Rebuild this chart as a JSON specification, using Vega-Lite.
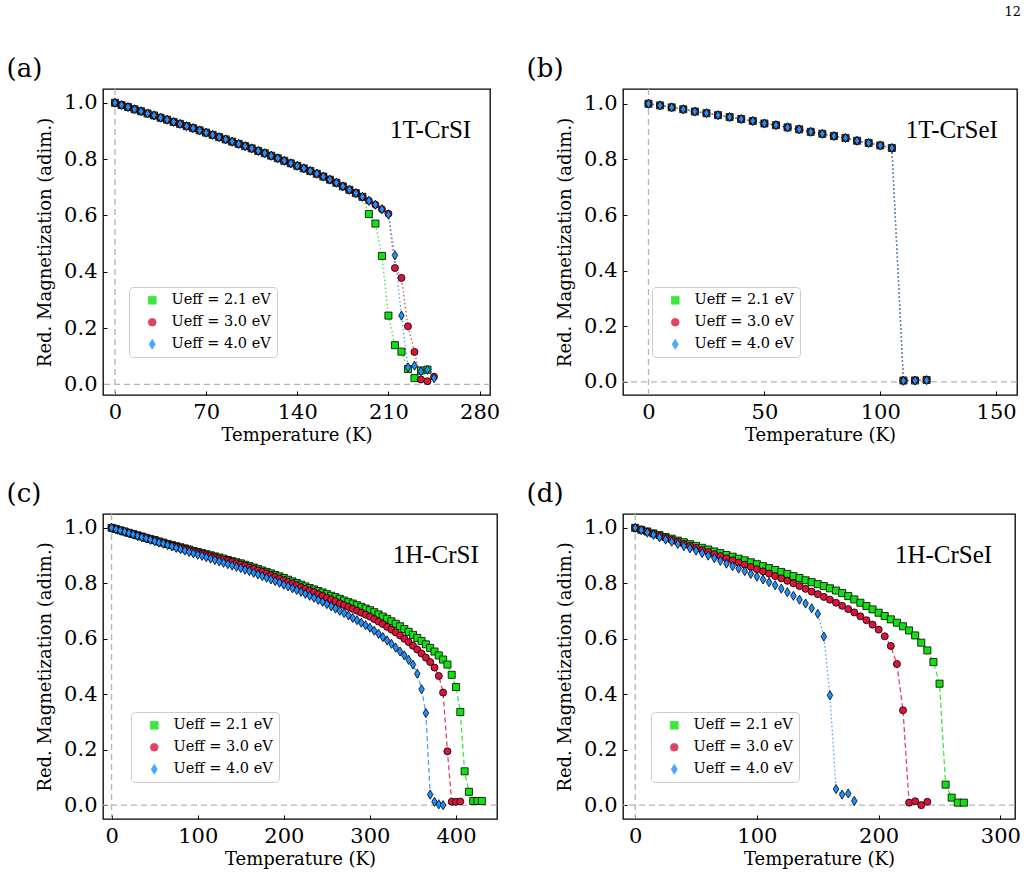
{
"$schema": "https://vega.github.io/schema/vega-lite/v6.json",
"background": "white",
"padding": 5,
"title": {"text": "12", "anchor": "end", "frame": "bounds", "fontSize": 13, "font": "DejaVu Serif", "fontWeight": "normal", "dx": 0, "offset": 37},
"datasets": {
"a": [
{"T":0,"M":1.000,"U":"2.1"},{"T":5,"M":0.992,"U":"2.1"},{"T":10,"M":0.985,"U":"2.1"},{"T":15,"M":0.977,"U":"2.1"},{"T":20,"M":0.970,"U":"2.1"},{"T":25,"M":0.962,"U":"2.1"},{"T":30,"M":0.955,"U":"2.1"},{"T":35,"M":0.947,"U":"2.1"},{"T":40,"M":0.940,"U":"2.1"},{"T":45,"M":0.932,"U":"2.1"},{"T":50,"M":0.925,"U":"2.1"},{"T":55,"M":0.917,"U":"2.1"},{"T":60,"M":0.910,"U":"2.1"},{"T":65,"M":0.902,"U":"2.1"},{"T":70,"M":0.894,"U":"2.1"},{"T":75,"M":0.886,"U":"2.1"},{"T":80,"M":0.878,"U":"2.1"},{"T":85,"M":0.870,"U":"2.1"},{"T":90,"M":0.862,"U":"2.1"},{"T":95,"M":0.854,"U":"2.1"},{"T":100,"M":0.846,"U":"2.1"},{"T":105,"M":0.838,"U":"2.1"},{"T":110,"M":0.829,"U":"2.1"},{"T":115,"M":0.821,"U":"2.1"},{"T":120,"M":0.812,"U":"2.1"},{"T":125,"M":0.803,"U":"2.1"},{"T":130,"M":0.794,"U":"2.1"},{"T":135,"M":0.785,"U":"2.1"},{"T":140,"M":0.776,"U":"2.1"},{"T":145,"M":0.767,"U":"2.1"},{"T":150,"M":0.758,"U":"2.1"},{"T":155,"M":0.748,"U":"2.1"},{"T":160,"M":0.738,"U":"2.1"},{"T":165,"M":0.727,"U":"2.1"},{"T":170,"M":0.716,"U":"2.1"},{"T":175,"M":0.703,"U":"2.1"},{"T":180,"M":0.691,"U":"2.1"},{"T":185,"M":0.679,"U":"2.1"},{"T":190,"M":0.666,"U":"2.1"},{"T":195,"M":0.605,"U":"2.1"},{"T":200,"M":0.571,"U":"2.1"},{"T":205,"M":0.456,"U":"2.1"},{"T":210,"M":0.244,"U":"2.1"},{"T":215,"M":0.139,"U":"2.1"},{"T":220,"M":0.116,"U":"2.1"},{"T":225,"M":0.054,"U":"2.1"},{"T":230,"M":0.022,"U":"2.1"},{"T":235,"M":0.049,"U":"2.1"},{"T":240,"M":0.052,"U":"2.1"},
{"T":0,"M":1.000,"U":"3.0"},{"T":5,"M":0.992,"U":"3.0"},{"T":10,"M":0.985,"U":"3.0"},{"T":15,"M":0.977,"U":"3.0"},{"T":20,"M":0.970,"U":"3.0"},{"T":25,"M":0.962,"U":"3.0"},{"T":30,"M":0.955,"U":"3.0"},{"T":35,"M":0.947,"U":"3.0"},{"T":40,"M":0.940,"U":"3.0"},{"T":45,"M":0.932,"U":"3.0"},{"T":50,"M":0.925,"U":"3.0"},{"T":55,"M":0.917,"U":"3.0"},{"T":60,"M":0.910,"U":"3.0"},{"T":65,"M":0.902,"U":"3.0"},{"T":70,"M":0.894,"U":"3.0"},{"T":75,"M":0.886,"U":"3.0"},{"T":80,"M":0.878,"U":"3.0"},{"T":85,"M":0.870,"U":"3.0"},{"T":90,"M":0.862,"U":"3.0"},{"T":95,"M":0.854,"U":"3.0"},{"T":100,"M":0.846,"U":"3.0"},{"T":105,"M":0.838,"U":"3.0"},{"T":110,"M":0.829,"U":"3.0"},{"T":115,"M":0.821,"U":"3.0"},{"T":120,"M":0.812,"U":"3.0"},{"T":125,"M":0.803,"U":"3.0"},{"T":130,"M":0.794,"U":"3.0"},{"T":135,"M":0.785,"U":"3.0"},{"T":140,"M":0.776,"U":"3.0"},{"T":145,"M":0.767,"U":"3.0"},{"T":150,"M":0.758,"U":"3.0"},{"T":155,"M":0.748,"U":"3.0"},{"T":160,"M":0.738,"U":"3.0"},{"T":165,"M":0.727,"U":"3.0"},{"T":170,"M":0.716,"U":"3.0"},{"T":175,"M":0.703,"U":"3.0"},{"T":180,"M":0.691,"U":"3.0"},{"T":185,"M":0.679,"U":"3.0"},{"T":190,"M":0.666,"U":"3.0"},{"T":195,"M":0.652,"U":"3.0"},{"T":200,"M":0.638,"U":"3.0"},{"T":205,"M":0.622,"U":"3.0"},{"T":210,"M":0.606,"U":"3.0"},{"T":215,"M":0.413,"U":"3.0"},{"T":220,"M":0.378,"U":"3.0"},{"T":225,"M":0.206,"U":"3.0"},{"T":230,"M":0.115,"U":"3.0"},{"T":235,"M":0.017,"U":"3.0"},{"T":240,"M":0.011,"U":"3.0"},{"T":245,"M":0.027,"U":"3.0"},
{"T":0,"M":1.000,"U":"4.0"},{"T":5,"M":0.992,"U":"4.0"},{"T":10,"M":0.985,"U":"4.0"},{"T":15,"M":0.977,"U":"4.0"},{"T":20,"M":0.970,"U":"4.0"},{"T":25,"M":0.962,"U":"4.0"},{"T":30,"M":0.955,"U":"4.0"},{"T":35,"M":0.947,"U":"4.0"},{"T":40,"M":0.940,"U":"4.0"},{"T":45,"M":0.932,"U":"4.0"},{"T":50,"M":0.925,"U":"4.0"},{"T":55,"M":0.917,"U":"4.0"},{"T":60,"M":0.910,"U":"4.0"},{"T":65,"M":0.902,"U":"4.0"},{"T":70,"M":0.894,"U":"4.0"},{"T":75,"M":0.886,"U":"4.0"},{"T":80,"M":0.878,"U":"4.0"},{"T":85,"M":0.870,"U":"4.0"},{"T":90,"M":0.862,"U":"4.0"},{"T":95,"M":0.854,"U":"4.0"},{"T":100,"M":0.846,"U":"4.0"},{"T":105,"M":0.838,"U":"4.0"},{"T":110,"M":0.829,"U":"4.0"},{"T":115,"M":0.821,"U":"4.0"},{"T":120,"M":0.812,"U":"4.0"},{"T":125,"M":0.803,"U":"4.0"},{"T":130,"M":0.794,"U":"4.0"},{"T":135,"M":0.785,"U":"4.0"},{"T":140,"M":0.776,"U":"4.0"},{"T":145,"M":0.767,"U":"4.0"},{"T":150,"M":0.758,"U":"4.0"},{"T":155,"M":0.748,"U":"4.0"},{"T":160,"M":0.738,"U":"4.0"},{"T":165,"M":0.727,"U":"4.0"},{"T":170,"M":0.716,"U":"4.0"},{"T":175,"M":0.703,"U":"4.0"},{"T":180,"M":0.691,"U":"4.0"},{"T":185,"M":0.679,"U":"4.0"},{"T":190,"M":0.666,"U":"4.0"},{"T":195,"M":0.652,"U":"4.0"},{"T":200,"M":0.638,"U":"4.0"},{"T":205,"M":0.622,"U":"4.0"},{"T":210,"M":0.603,"U":"4.0"},{"T":215,"M":0.458,"U":"4.0"},{"T":220,"M":0.244,"U":"4.0"},{"T":225,"M":0.060,"U":"4.0"},{"T":230,"M":0.066,"U":"4.0"},{"T":235,"M":0.046,"U":"4.0"},{"T":240,"M":0.052,"U":"4.0"},{"T":245,"M":0.022,"U":"4.0"}
],
"b": [
{"T":0,"M":1.000,"U":"2.1"},{"T":5,"M":0.994,"U":"2.1"},{"T":10,"M":0.987,"U":"2.1"},{"T":15,"M":0.980,"U":"2.1"},{"T":20,"M":0.972,"U":"2.1"},{"T":25,"M":0.966,"U":"2.1"},{"T":30,"M":0.959,"U":"2.1"},{"T":35,"M":0.952,"U":"2.1"},{"T":40,"M":0.945,"U":"2.1"},{"T":45,"M":0.938,"U":"2.1"},{"T":50,"M":0.929,"U":"2.1"},{"T":55,"M":0.923,"U":"2.1"},{"T":60,"M":0.915,"U":"2.1"},{"T":65,"M":0.908,"U":"2.1"},{"T":70,"M":0.899,"U":"2.1"},{"T":75,"M":0.892,"U":"2.1"},{"T":80,"M":0.884,"U":"2.1"},{"T":85,"M":0.877,"U":"2.1"},{"T":90,"M":0.867,"U":"2.1"},{"T":95,"M":0.859,"U":"2.1"},{"T":100,"M":0.850,"U":"2.1"},{"T":105,"M":0.841,"U":"2.1"},{"T":110,"M":0.005,"U":"2.1"},{"T":115,"M":0.005,"U":"2.1"},{"T":120,"M":0.007,"U":"2.1"},
{"T":0,"M":1.000,"U":"3.0"},{"T":5,"M":0.994,"U":"3.0"},{"T":10,"M":0.987,"U":"3.0"},{"T":15,"M":0.980,"U":"3.0"},{"T":20,"M":0.972,"U":"3.0"},{"T":25,"M":0.966,"U":"3.0"},{"T":30,"M":0.959,"U":"3.0"},{"T":35,"M":0.952,"U":"3.0"},{"T":40,"M":0.945,"U":"3.0"},{"T":45,"M":0.938,"U":"3.0"},{"T":50,"M":0.929,"U":"3.0"},{"T":55,"M":0.923,"U":"3.0"},{"T":60,"M":0.915,"U":"3.0"},{"T":65,"M":0.908,"U":"3.0"},{"T":70,"M":0.899,"U":"3.0"},{"T":75,"M":0.892,"U":"3.0"},{"T":80,"M":0.884,"U":"3.0"},{"T":85,"M":0.877,"U":"3.0"},{"T":90,"M":0.867,"U":"3.0"},{"T":95,"M":0.859,"U":"3.0"},{"T":100,"M":0.850,"U":"3.0"},{"T":105,"M":0.841,"U":"3.0"},{"T":110,"M":0.005,"U":"3.0"},{"T":115,"M":0.006,"U":"3.0"},{"T":120,"M":0.008,"U":"3.0"},
{"T":0,"M":1.000,"U":"4.0"},{"T":5,"M":0.994,"U":"4.0"},{"T":10,"M":0.987,"U":"4.0"},{"T":15,"M":0.980,"U":"4.0"},{"T":20,"M":0.972,"U":"4.0"},{"T":25,"M":0.966,"U":"4.0"},{"T":30,"M":0.959,"U":"4.0"},{"T":35,"M":0.952,"U":"4.0"},{"T":40,"M":0.945,"U":"4.0"},{"T":45,"M":0.938,"U":"4.0"},{"T":50,"M":0.929,"U":"4.0"},{"T":55,"M":0.923,"U":"4.0"},{"T":60,"M":0.915,"U":"4.0"},{"T":65,"M":0.908,"U":"4.0"},{"T":70,"M":0.899,"U":"4.0"},{"T":75,"M":0.892,"U":"4.0"},{"T":80,"M":0.884,"U":"4.0"},{"T":85,"M":0.877,"U":"4.0"},{"T":90,"M":0.867,"U":"4.0"},{"T":95,"M":0.859,"U":"4.0"},{"T":100,"M":0.850,"U":"4.0"},{"T":105,"M":0.841,"U":"4.0"},{"T":110,"M":0.004,"U":"4.0"},{"T":115,"M":0.005,"U":"4.0"},{"T":120,"M":0.006,"U":"4.0"}
],
"c": [
{"T":0,"M":1.000,"U":"2.1"},{"T":5,"M":0.996,"U":"2.1"},{"T":10,"M":0.991,"U":"2.1"},{"T":15,"M":0.987,"U":"2.1"},{"T":20,"M":0.982,"U":"2.1"},{"T":25,"M":0.978,"U":"2.1"},{"T":30,"M":0.973,"U":"2.1"},{"T":35,"M":0.969,"U":"2.1"},{"T":40,"M":0.964,"U":"2.1"},{"T":45,"M":0.960,"U":"2.1"},{"T":50,"M":0.956,"U":"2.1"},{"T":55,"M":0.951,"U":"2.1"},{"T":60,"M":0.947,"U":"2.1"},{"T":65,"M":0.942,"U":"2.1"},{"T":70,"M":0.938,"U":"2.1"},{"T":75,"M":0.934,"U":"2.1"},{"T":80,"M":0.930,"U":"2.1"},{"T":85,"M":0.926,"U":"2.1"},{"T":90,"M":0.922,"U":"2.1"},{"T":95,"M":0.917,"U":"2.1"},{"T":100,"M":0.913,"U":"2.1"},{"T":105,"M":0.909,"U":"2.1"},{"T":110,"M":0.905,"U":"2.1"},{"T":115,"M":0.901,"U":"2.1"},{"T":120,"M":0.897,"U":"2.1"},{"T":125,"M":0.893,"U":"2.1"},{"T":130,"M":0.889,"U":"2.1"},{"T":135,"M":0.884,"U":"2.1"},{"T":140,"M":0.880,"U":"2.1"},{"T":145,"M":0.876,"U":"2.1"},{"T":150,"M":0.872,"U":"2.1"},{"T":155,"M":0.867,"U":"2.1"},{"T":160,"M":0.862,"U":"2.1"},{"T":165,"M":0.857,"U":"2.1"},{"T":170,"M":0.852,"U":"2.1"},{"T":175,"M":0.846,"U":"2.1"},{"T":180,"M":0.841,"U":"2.1"},{"T":185,"M":0.836,"U":"2.1"},{"T":190,"M":0.830,"U":"2.1"},{"T":195,"M":0.825,"U":"2.1"},{"T":200,"M":0.819,"U":"2.1"},{"T":205,"M":0.813,"U":"2.1"},{"T":210,"M":0.807,"U":"2.1"},{"T":215,"M":0.801,"U":"2.1"},{"T":220,"M":0.795,"U":"2.1"},{"T":225,"M":0.789,"U":"2.1"},{"T":230,"M":0.783,"U":"2.1"},{"T":235,"M":0.778,"U":"2.1"},{"T":240,"M":0.772,"U":"2.1"},{"T":245,"M":0.767,"U":"2.1"},{"T":250,"M":0.761,"U":"2.1"},{"T":255,"M":0.755,"U":"2.1"},{"T":260,"M":0.750,"U":"2.1"},{"T":265,"M":0.744,"U":"2.1"},{"T":270,"M":0.738,"U":"2.1"},{"T":275,"M":0.732,"U":"2.1"},{"T":280,"M":0.727,"U":"2.1"},{"T":285,"M":0.721,"U":"2.1"},{"T":290,"M":0.715,"U":"2.1"},{"T":295,"M":0.709,"U":"2.1"},{"T":300,"M":0.703,"U":"2.1"},{"T":305,"M":0.696,"U":"2.1"},{"T":310,"M":0.688,"U":"2.1"},{"T":315,"M":0.680,"U":"2.1"},{"T":320,"M":0.672,"U":"2.1"},{"T":325,"M":0.663,"U":"2.1"},{"T":330,"M":0.654,"U":"2.1"},{"T":335,"M":0.645,"U":"2.1"},{"T":340,"M":0.635,"U":"2.1"},{"T":345,"M":0.625,"U":"2.1"},{"T":350,"M":0.614,"U":"2.1"},{"T":355,"M":0.603,"U":"2.1"},{"T":360,"M":0.592,"U":"2.1"},{"T":365,"M":0.580,"U":"2.1"},{"T":370,"M":0.567,"U":"2.1"},{"T":375,"M":0.554,"U":"2.1"},{"T":380,"M":0.540,"U":"2.1"},{"T":385,"M":0.525,"U":"2.1"},{"T":390,"M":0.507,"U":"2.1"},{"T":395,"M":0.470,"U":"2.1"},{"T":400,"M":0.426,"U":"2.1"},{"T":405,"M":0.336,"U":"2.1"},{"T":410,"M":0.122,"U":"2.1"},{"T":415,"M":0.048,"U":"2.1"},{"T":420,"M":0.015,"U":"2.1"},{"T":425,"M":0.015,"U":"2.1"},{"T":430,"M":0.015,"U":"2.1"},
{"T":0,"M":1.000,"U":"3.0"},{"T":5,"M":0.995,"U":"3.0"},{"T":10,"M":0.991,"U":"3.0"},{"T":15,"M":0.986,"U":"3.0"},{"T":20,"M":0.982,"U":"3.0"},{"T":25,"M":0.977,"U":"3.0"},{"T":30,"M":0.973,"U":"3.0"},{"T":35,"M":0.968,"U":"3.0"},{"T":40,"M":0.964,"U":"3.0"},{"T":45,"M":0.959,"U":"3.0"},{"T":50,"M":0.955,"U":"3.0"},{"T":55,"M":0.950,"U":"3.0"},{"T":60,"M":0.946,"U":"3.0"},{"T":65,"M":0.941,"U":"3.0"},{"T":70,"M":0.937,"U":"3.0"},{"T":75,"M":0.933,"U":"3.0"},{"T":80,"M":0.928,"U":"3.0"},{"T":85,"M":0.924,"U":"3.0"},{"T":90,"M":0.920,"U":"3.0"},{"T":95,"M":0.915,"U":"3.0"},{"T":100,"M":0.911,"U":"3.0"},{"T":105,"M":0.907,"U":"3.0"},{"T":110,"M":0.902,"U":"3.0"},{"T":115,"M":0.898,"U":"3.0"},{"T":120,"M":0.894,"U":"3.0"},{"T":125,"M":0.889,"U":"3.0"},{"T":130,"M":0.885,"U":"3.0"},{"T":135,"M":0.881,"U":"3.0"},{"T":140,"M":0.877,"U":"3.0"},{"T":145,"M":0.872,"U":"3.0"},{"T":150,"M":0.868,"U":"3.0"},{"T":155,"M":0.863,"U":"3.0"},{"T":160,"M":0.857,"U":"3.0"},{"T":165,"M":0.852,"U":"3.0"},{"T":170,"M":0.846,"U":"3.0"},{"T":175,"M":0.841,"U":"3.0"},{"T":180,"M":0.835,"U":"3.0"},{"T":185,"M":0.829,"U":"3.0"},{"T":190,"M":0.823,"U":"3.0"},{"T":195,"M":0.817,"U":"3.0"},{"T":200,"M":0.811,"U":"3.0"},{"T":205,"M":0.805,"U":"3.0"},{"T":210,"M":0.799,"U":"3.0"},{"T":215,"M":0.793,"U":"3.0"},{"T":220,"M":0.786,"U":"3.0"},{"T":225,"M":0.780,"U":"3.0"},{"T":230,"M":0.774,"U":"3.0"},{"T":235,"M":0.768,"U":"3.0"},{"T":240,"M":0.761,"U":"3.0"},{"T":245,"M":0.755,"U":"3.0"},{"T":250,"M":0.748,"U":"3.0"},{"T":255,"M":0.742,"U":"3.0"},{"T":260,"M":0.735,"U":"3.0"},{"T":265,"M":0.728,"U":"3.0"},{"T":270,"M":0.722,"U":"3.0"},{"T":275,"M":0.715,"U":"3.0"},{"T":280,"M":0.708,"U":"3.0"},{"T":285,"M":0.701,"U":"3.0"},{"T":290,"M":0.694,"U":"3.0"},{"T":295,"M":0.687,"U":"3.0"},{"T":300,"M":0.680,"U":"3.0"},{"T":305,"M":0.671,"U":"3.0"},{"T":310,"M":0.662,"U":"3.0"},{"T":315,"M":0.653,"U":"3.0"},{"T":320,"M":0.643,"U":"3.0"},{"T":325,"M":0.633,"U":"3.0"},{"T":330,"M":0.623,"U":"3.0"},{"T":335,"M":0.612,"U":"3.0"},{"T":340,"M":0.600,"U":"3.0"},{"T":345,"M":0.588,"U":"3.0"},{"T":350,"M":0.575,"U":"3.0"},{"T":355,"M":0.561,"U":"3.0"},{"T":360,"M":0.547,"U":"3.0"},{"T":365,"M":0.532,"U":"3.0"},{"T":370,"M":0.516,"U":"3.0"},{"T":375,"M":0.496,"U":"3.0"},{"T":380,"M":0.466,"U":"3.0"},{"T":385,"M":0.406,"U":"3.0"},{"T":390,"M":0.194,"U":"3.0"},{"T":395,"M":0.012,"U":"3.0"},{"T":400,"M":0.012,"U":"3.0"},{"T":405,"M":0.013,"U":"3.0"},
{"T":0,"M":1.000,"U":"4.0"},{"T":5,"M":0.995,"U":"4.0"},{"T":10,"M":0.990,"U":"4.0"},{"T":15,"M":0.986,"U":"4.0"},{"T":20,"M":0.981,"U":"4.0"},{"T":25,"M":0.976,"U":"4.0"},{"T":30,"M":0.971,"U":"4.0"},{"T":35,"M":0.966,"U":"4.0"},{"T":40,"M":0.962,"U":"4.0"},{"T":45,"M":0.957,"U":"4.0"},{"T":50,"M":0.952,"U":"4.0"},{"T":55,"M":0.947,"U":"4.0"},{"T":60,"M":0.943,"U":"4.0"},{"T":65,"M":0.938,"U":"4.0"},{"T":70,"M":0.933,"U":"4.0"},{"T":75,"M":0.928,"U":"4.0"},{"T":80,"M":0.923,"U":"4.0"},{"T":85,"M":0.918,"U":"4.0"},{"T":90,"M":0.913,"U":"4.0"},{"T":95,"M":0.908,"U":"4.0"},{"T":100,"M":0.903,"U":"4.0"},{"T":105,"M":0.899,"U":"4.0"},{"T":110,"M":0.894,"U":"4.0"},{"T":115,"M":0.889,"U":"4.0"},{"T":120,"M":0.884,"U":"4.0"},{"T":125,"M":0.879,"U":"4.0"},{"T":130,"M":0.874,"U":"4.0"},{"T":135,"M":0.869,"U":"4.0"},{"T":140,"M":0.864,"U":"4.0"},{"T":145,"M":0.859,"U":"4.0"},{"T":150,"M":0.855,"U":"4.0"},{"T":155,"M":0.849,"U":"4.0"},{"T":160,"M":0.844,"U":"4.0"},{"T":165,"M":0.838,"U":"4.0"},{"T":170,"M":0.832,"U":"4.0"},{"T":175,"M":0.826,"U":"4.0"},{"T":180,"M":0.820,"U":"4.0"},{"T":185,"M":0.814,"U":"4.0"},{"T":190,"M":0.808,"U":"4.0"},{"T":195,"M":0.802,"U":"4.0"},{"T":200,"M":0.795,"U":"4.0"},{"T":205,"M":0.789,"U":"4.0"},{"T":210,"M":0.782,"U":"4.0"},{"T":215,"M":0.776,"U":"4.0"},{"T":220,"M":0.769,"U":"4.0"},{"T":225,"M":0.762,"U":"4.0"},{"T":230,"M":0.755,"U":"4.0"},{"T":235,"M":0.748,"U":"4.0"},{"T":240,"M":0.740,"U":"4.0"},{"T":245,"M":0.733,"U":"4.0"},{"T":250,"M":0.725,"U":"4.0"},{"T":255,"M":0.717,"U":"4.0"},{"T":260,"M":0.709,"U":"4.0"},{"T":265,"M":0.701,"U":"4.0"},{"T":270,"M":0.693,"U":"4.0"},{"T":275,"M":0.684,"U":"4.0"},{"T":280,"M":0.675,"U":"4.0"},{"T":285,"M":0.667,"U":"4.0"},{"T":290,"M":0.658,"U":"4.0"},{"T":295,"M":0.649,"U":"4.0"},{"T":300,"M":0.640,"U":"4.0"},{"T":305,"M":0.629,"U":"4.0"},{"T":310,"M":0.618,"U":"4.0"},{"T":315,"M":0.606,"U":"4.0"},{"T":320,"M":0.594,"U":"4.0"},{"T":325,"M":0.582,"U":"4.0"},{"T":330,"M":0.568,"U":"4.0"},{"T":335,"M":0.554,"U":"4.0"},{"T":340,"M":0.540,"U":"4.0"},{"T":345,"M":0.524,"U":"4.0"},{"T":350,"M":0.507,"U":"4.0"},{"T":355,"M":0.474,"U":"4.0"},{"T":360,"M":0.418,"U":"4.0"},{"T":365,"M":0.332,"U":"4.0"},{"T":370,"M":0.038,"U":"4.0"},{"T":375,"M":0.012,"U":"4.0"},{"T":380,"M":0.003,"U":"4.0"},{"T":385,"M":0.000,"U":"4.0"}
],
"d": [
{"T":0,"M":1.000,"U":"2.1"},{"T":5,"M":0.993,"U":"2.1"},{"T":10,"M":0.987,"U":"2.1"},{"T":15,"M":0.980,"U":"2.1"},{"T":20,"M":0.974,"U":"2.1"},{"T":25,"M":0.967,"U":"2.1"},{"T":30,"M":0.961,"U":"2.1"},{"T":35,"M":0.954,"U":"2.1"},{"T":40,"M":0.948,"U":"2.1"},{"T":45,"M":0.941,"U":"2.1"},{"T":50,"M":0.935,"U":"2.1"},{"T":55,"M":0.928,"U":"2.1"},{"T":60,"M":0.922,"U":"2.1"},{"T":65,"M":0.915,"U":"2.1"},{"T":70,"M":0.909,"U":"2.1"},{"T":75,"M":0.902,"U":"2.1"},{"T":80,"M":0.896,"U":"2.1"},{"T":85,"M":0.889,"U":"2.1"},{"T":90,"M":0.883,"U":"2.1"},{"T":95,"M":0.876,"U":"2.1"},{"T":100,"M":0.869,"U":"2.1"},{"T":105,"M":0.862,"U":"2.1"},{"T":110,"M":0.855,"U":"2.1"},{"T":115,"M":0.848,"U":"2.1"},{"T":120,"M":0.841,"U":"2.1"},{"T":125,"M":0.834,"U":"2.1"},{"T":130,"M":0.826,"U":"2.1"},{"T":135,"M":0.819,"U":"2.1"},{"T":140,"M":0.811,"U":"2.1"},{"T":145,"M":0.804,"U":"2.1"},{"T":150,"M":0.797,"U":"2.1"},{"T":155,"M":0.790,"U":"2.1"},{"T":160,"M":0.782,"U":"2.1"},{"T":165,"M":0.774,"U":"2.1"},{"T":170,"M":0.765,"U":"2.1"},{"T":175,"M":0.754,"U":"2.1"},{"T":180,"M":0.742,"U":"2.1"},{"T":185,"M":0.730,"U":"2.1"},{"T":190,"M":0.718,"U":"2.1"},{"T":195,"M":0.706,"U":"2.1"},{"T":200,"M":0.694,"U":"2.1"},{"T":205,"M":0.682,"U":"2.1"},{"T":210,"M":0.670,"U":"2.1"},{"T":215,"M":0.658,"U":"2.1"},{"T":220,"M":0.645,"U":"2.1"},{"T":225,"M":0.630,"U":"2.1"},{"T":230,"M":0.612,"U":"2.1"},{"T":235,"M":0.586,"U":"2.1"},{"T":240,"M":0.558,"U":"2.1"},{"T":245,"M":0.516,"U":"2.1"},{"T":250,"M":0.438,"U":"2.1"},{"T":255,"M":0.074,"U":"2.1"},{"T":260,"M":0.027,"U":"2.1"},{"T":265,"M":0.009,"U":"2.1"},{"T":270,"M":0.009,"U":"2.1"},
{"T":0,"M":1.000,"U":"3.0"},{"T":5,"M":0.993,"U":"3.0"},{"T":10,"M":0.986,"U":"3.0"},{"T":15,"M":0.979,"U":"3.0"},{"T":20,"M":0.971,"U":"3.0"},{"T":25,"M":0.964,"U":"3.0"},{"T":30,"M":0.957,"U":"3.0"},{"T":35,"M":0.950,"U":"3.0"},{"T":40,"M":0.942,"U":"3.0"},{"T":45,"M":0.935,"U":"3.0"},{"T":50,"M":0.928,"U":"3.0"},{"T":55,"M":0.920,"U":"3.0"},{"T":60,"M":0.913,"U":"3.0"},{"T":65,"M":0.905,"U":"3.0"},{"T":70,"M":0.898,"U":"3.0"},{"T":75,"M":0.890,"U":"3.0"},{"T":80,"M":0.883,"U":"3.0"},{"T":85,"M":0.875,"U":"3.0"},{"T":90,"M":0.867,"U":"3.0"},{"T":95,"M":0.859,"U":"3.0"},{"T":100,"M":0.851,"U":"3.0"},{"T":105,"M":0.843,"U":"3.0"},{"T":110,"M":0.835,"U":"3.0"},{"T":115,"M":0.826,"U":"3.0"},{"T":120,"M":0.818,"U":"3.0"},{"T":125,"M":0.809,"U":"3.0"},{"T":130,"M":0.800,"U":"3.0"},{"T":135,"M":0.790,"U":"3.0"},{"T":140,"M":0.780,"U":"3.0"},{"T":145,"M":0.770,"U":"3.0"},{"T":150,"M":0.761,"U":"3.0"},{"T":155,"M":0.751,"U":"3.0"},{"T":160,"M":0.741,"U":"3.0"},{"T":165,"M":0.730,"U":"3.0"},{"T":170,"M":0.719,"U":"3.0"},{"T":175,"M":0.707,"U":"3.0"},{"T":180,"M":0.695,"U":"3.0"},{"T":185,"M":0.681,"U":"3.0"},{"T":190,"M":0.667,"U":"3.0"},{"T":195,"M":0.651,"U":"3.0"},{"T":200,"M":0.633,"U":"3.0"},{"T":205,"M":0.609,"U":"3.0"},{"T":210,"M":0.574,"U":"3.0"},{"T":215,"M":0.509,"U":"3.0"},{"T":220,"M":0.342,"U":"3.0"},{"T":225,"M":0.009,"U":"3.0"},{"T":230,"M":0.014,"U":"3.0"},{"T":235,"M":0.000,"U":"3.0"},{"T":240,"M":0.012,"U":"3.0"},
{"T":0,"M":1.000,"U":"4.0"},{"T":5,"M":0.992,"U":"4.0"},{"T":10,"M":0.983,"U":"4.0"},{"T":15,"M":0.975,"U":"4.0"},{"T":20,"M":0.966,"U":"4.0"},{"T":25,"M":0.958,"U":"4.0"},{"T":30,"M":0.950,"U":"4.0"},{"T":35,"M":0.942,"U":"4.0"},{"T":40,"M":0.934,"U":"4.0"},{"T":45,"M":0.926,"U":"4.0"},{"T":50,"M":0.918,"U":"4.0"},{"T":55,"M":0.909,"U":"4.0"},{"T":60,"M":0.900,"U":"4.0"},{"T":65,"M":0.891,"U":"4.0"},{"T":70,"M":0.881,"U":"4.0"},{"T":75,"M":0.871,"U":"4.0"},{"T":80,"M":0.862,"U":"4.0"},{"T":85,"M":0.853,"U":"4.0"},{"T":90,"M":0.844,"U":"4.0"},{"T":95,"M":0.834,"U":"4.0"},{"T":100,"M":0.824,"U":"4.0"},{"T":105,"M":0.814,"U":"4.0"},{"T":110,"M":0.804,"U":"4.0"},{"T":115,"M":0.793,"U":"4.0"},{"T":120,"M":0.781,"U":"4.0"},{"T":125,"M":0.768,"U":"4.0"},{"T":130,"M":0.755,"U":"4.0"},{"T":135,"M":0.741,"U":"4.0"},{"T":140,"M":0.727,"U":"4.0"},{"T":145,"M":0.710,"U":"4.0"},{"T":150,"M":0.690,"U":"4.0"},{"T":155,"M":0.608,"U":"4.0"},{"T":160,"M":0.396,"U":"4.0"},{"T":165,"M":0.058,"U":"4.0"},{"T":170,"M":0.038,"U":"4.0"},{"T":175,"M":0.042,"U":"4.0"},{"T":180,"M":0.015,"U":"4.0"}
]
},
"columns": 2,
"spacing": {"row": 35, "column": 24},
"resolve": {"scale": {"color": "independent", "shape": "independent"}, "legend": {"color": "independent", "shape": "independent"}},
"concat": [
{"width": 387, "height": 306, "title": "(a)", "layer": [
 {"data": {"values": [{}]}, "mark": {"type": "rule", "color": "#b4b4b4", "strokeDash": [6, 4], "strokeWidth": 1.3}, "encoding": {"x": {"datum": 0, "type": "quantitative"}}},
 {"data": {"values": [{}]}, "mark": {"type": "rule", "color": "#b4b4b4", "strokeDash": [6, 4], "strokeWidth": 1.3}, "encoding": {"y": {"datum": 0, "type": "quantitative"}}},
 {"data": {"name": "a"}, "mark": {"type": "line", "strokeWidth": 1.3, "opacity": 0.8, "strokeDash": [1.5, 2.5]}, "encoding": {
  "x": {"field": "T", "type": "quantitative", "scale": {"domain": [-9.2, 288], "nice": false, "zero": false}, "axis": {"title": "Temperature (K)", "values": [0, 70, 140, 210, 280]}},
  "y": {"field": "M", "type": "quantitative", "scale": {"domain": [-0.038, 1.049], "nice": false, "zero": false}, "axis": {"title": "Red. Magnetization (adim.)", "values": [0, 0.2, 0.4, 0.6, 0.8, 1.0], "format": ".1f"}},
  "color": {"field": "U", "type": "nominal", "scale": {"domain": ["2.1", "3.0", "4.0"], "range": ["#11e011", "#dc143c", "#1e90ff"]}}}},
 {"data": {"name": "a"}, "mark": {"type": "point", "filled": true, "opacity": 1, "stroke": "black", "strokeWidth": 0.8, "size": 50}, "encoding": {
  "x": {"field": "T", "type": "quantitative"},
  "y": {"field": "M", "type": "quantitative"},
  "color": {"field": "U", "type": "nominal", "legend": {"title": null, "labelExpr": "'Ueff = ' + datum.label + ' eV'", "orient": "none", "legendX": 26, "legendY": 198, "symbolStrokeColor": "black", "symbolStrokeWidth": 0.8, "symbolOpacity": 1}},
  "shape": {"field": "U", "type": "nominal", "scale": {"domain": ["2.1", "3.0", "4.0"], "range": ["square", "circle", "M0,-1.3L0.78,0L0,1.3L-0.78,0Z"]}, "legend": {"title": null, "labelExpr": "'Ueff = ' + datum.label + ' eV'", "orient": "none", "legendX": 26, "legendY": 198, "symbolStrokeColor": "black", "symbolStrokeWidth": 0.8, "symbolOpacity": 1}}}},
 {"data": {"values": [{"label": "1T-CrSI"}]}, "mark": {"type": "text", "font": "Liberation Serif", "fontSize": 25, "align": "center", "baseline": "middle"}, "encoding": {"x": {"datum": 242.4, "type": "quantitative"}, "y": {"datum": 0.905, "type": "quantitative"}, "text": {"field": "label"}}}
]},
{"width": 394, "height": 306, "title": "(b)", "layer": [
 {"data": {"values": [{}]}, "mark": {"type": "rule", "color": "#b4b4b4", "strokeDash": [6, 4], "strokeWidth": 1.3}, "encoding": {"x": {"datum": 0, "type": "quantitative"}}},
 {"data": {"values": [{}]}, "mark": {"type": "rule", "color": "#b4b4b4", "strokeDash": [6, 4], "strokeWidth": 1.3}, "encoding": {"y": {"datum": 0, "type": "quantitative"}}},
 {"data": {"name": "b"}, "mark": {"type": "line", "strokeWidth": 1.3, "opacity": 0.8, "strokeDash": [1.5, 2.5]}, "encoding": {
  "x": {"field": "T", "type": "quantitative", "scale": {"domain": [-11, 159], "nice": false, "zero": false}, "axis": {"title": "Temperature (K)", "values": [0, 50, 100, 150]}},
  "y": {"field": "M", "type": "quantitative", "scale": {"domain": [-0.047, 1.053], "nice": false, "zero": false}, "axis": {"title": "Red. Magnetization (adim.)", "values": [0, 0.2, 0.4, 0.6, 0.8, 1.0], "format": ".1f"}},
  "color": {"field": "U", "type": "nominal", "scale": {"domain": ["2.1", "3.0", "4.0"], "range": ["#11e011", "#dc143c", "#1e90ff"]}}}},
 {"data": {"name": "b"}, "mark": {"type": "point", "filled": true, "opacity": 1, "stroke": "black", "strokeWidth": 0.8, "size": 50}, "encoding": {
  "x": {"field": "T", "type": "quantitative"},
  "y": {"field": "M", "type": "quantitative"},
  "color": {"field": "U", "type": "nominal", "legend": {"title": null, "labelExpr": "'Ueff = ' + datum.label + ' eV'", "orient": "none", "legendX": 29, "legendY": 198, "symbolStrokeColor": "black", "symbolStrokeWidth": 0.8, "symbolOpacity": 1}},
  "shape": {"field": "U", "type": "nominal", "scale": {"domain": ["2.1", "3.0", "4.0"], "range": ["square", "circle", "M0,-1.3L0.78,0L0,1.3L-0.78,0Z"]}, "legend": {"title": null, "labelExpr": "'Ueff = ' + datum.label + ' eV'", "orient": "none", "legendX": 29, "legendY": 198, "symbolStrokeColor": "black", "symbolStrokeWidth": 0.8, "symbolOpacity": 1}}}},
 {"data": {"values": [{"label": "1T-CrSeI"}]}, "mark": {"type": "text", "font": "Liberation Serif", "fontSize": 25, "align": "center", "baseline": "middle"}, "encoding": {"x": {"datum": 130.9, "type": "quantitative"}, "y": {"datum": 0.904, "type": "quantitative"}, "text": {"field": "label"}}}
]},
{"width": 394, "height": 305, "title": "(c)", "layer": [
 {"data": {"values": [{}]}, "mark": {"type": "rule", "color": "#b4b4b4", "strokeDash": [6, 4], "strokeWidth": 1.3}, "encoding": {"x": {"datum": 0, "type": "quantitative"}}},
 {"data": {"values": [{}]}, "mark": {"type": "rule", "color": "#b4b4b4", "strokeDash": [6, 4], "strokeWidth": 1.3}, "encoding": {"y": {"datum": 0, "type": "quantitative"}}},
 {"data": {"name": "c"}, "mark": {"type": "line", "strokeWidth": 1.3, "opacity": 0.8, "strokeDash": [5, 3]}, "encoding": {
  "x": {"field": "T", "type": "quantitative", "scale": {"domain": [-10, 447.6], "nice": false, "zero": false}, "axis": {"title": "Temperature (K)", "values": [0, 100, 200, 300, 400]}},
  "y": {"field": "M", "type": "quantitative", "scale": {"domain": [-0.05, 1.05], "nice": false, "zero": false}, "axis": {"title": "Red. Magnetization (adim.)", "values": [0, 0.2, 0.4, 0.6, 0.8, 1.0], "format": ".1f"}},
  "color": {"field": "U", "type": "nominal", "scale": {"domain": ["2.1", "3.0", "4.0"], "range": ["#11e011", "#dc143c", "#1e90ff"]}}}},
 {"data": {"name": "c"}, "mark": {"type": "point", "filled": true, "opacity": 1, "stroke": "black", "strokeWidth": 0.8, "size": 50}, "encoding": {
  "x": {"field": "T", "type": "quantitative"},
  "y": {"field": "M", "type": "quantitative"},
  "color": {"field": "U", "type": "nominal", "legend": {"title": null, "labelExpr": "'Ueff = ' + datum.label + ' eV'", "orient": "none", "legendX": 28, "legendY": 198, "symbolStrokeColor": "black", "symbolStrokeWidth": 0.8, "symbolOpacity": 1}},
  "shape": {"field": "U", "type": "nominal", "scale": {"domain": ["2.1", "3.0", "4.0"], "range": ["square", "circle", "M0,-1.3L0.78,0L0,1.3L-0.78,0Z"]}, "legend": {"title": null, "labelExpr": "'Ueff = ' + datum.label + ' eV'", "orient": "none", "legendX": 28, "legendY": 198, "symbolStrokeColor": "black", "symbolStrokeWidth": 0.8, "symbolOpacity": 1}}}},
 {"data": {"values": [{"label": "1H-CrSI"}]}, "mark": {"type": "text", "font": "Liberation Serif", "fontSize": 25, "align": "center", "baseline": "middle"}, "encoding": {"x": {"datum": 376.4, "type": "quantitative"}, "y": {"datum": 0.903, "type": "quantitative"}, "text": {"field": "label"}}}
]},
{"width": 392, "height": 305, "title": "(d)", "layer": [
 {"data": {"values": [{}]}, "mark": {"type": "rule", "color": "#b4b4b4", "strokeDash": [6, 4], "strokeWidth": 1.3}, "encoding": {"x": {"datum": 0, "type": "quantitative"}}},
 {"data": {"values": [{}]}, "mark": {"type": "rule", "color": "#b4b4b4", "strokeDash": [6, 4], "strokeWidth": 1.3}, "encoding": {"y": {"datum": 0, "type": "quantitative"}}},
 {"data": {"name": "d"}, "transform": [{"filter": "datum.U != '4.0'"}], "mark": {"type": "line", "strokeWidth": 1.3, "opacity": 0.8, "strokeDash": [5, 3]}, "encoding": {
  "x": {"field": "T", "type": "quantitative", "scale": {"domain": [-10, 312], "nice": false, "zero": false}, "axis": {"title": "Temperature (K)", "values": [0, 100, 200, 300]}},
  "y": {"field": "M", "type": "quantitative", "scale": {"domain": [-0.05, 1.05], "nice": false, "zero": false}, "axis": {"title": "Red. Magnetization (adim.)", "values": [0, 0.2, 0.4, 0.6, 0.8, 1.0], "format": ".1f"}},
  "color": {"field": "U", "type": "nominal", "scale": {"domain": ["2.1", "3.0", "4.0"], "range": ["#11e011", "#dc143c", "#1e90ff"]}}}},
 {"data": {"name": "d"}, "transform": [{"filter": "datum.U == '4.0'"}], "mark": {"type": "line", "strokeWidth": 1.3, "opacity": 0.8, "strokeDash": [1.5, 2.5]}, "encoding": {
  "x": {"field": "T", "type": "quantitative"},
  "y": {"field": "M", "type": "quantitative"},
  "color": {"field": "U", "type": "nominal"}}},
 {"data": {"name": "d"}, "mark": {"type": "point", "filled": true, "opacity": 1, "stroke": "black", "strokeWidth": 0.8, "size": 50}, "encoding": {
  "x": {"field": "T", "type": "quantitative"},
  "y": {"field": "M", "type": "quantitative"},
  "color": {"field": "U", "type": "nominal", "legend": {"title": null, "labelExpr": "'Ueff = ' + datum.label + ' eV'", "orient": "none", "legendX": 28, "legendY": 198, "symbolStrokeColor": "black", "symbolStrokeWidth": 0.8, "symbolOpacity": 1}},
  "shape": {"field": "U", "type": "nominal", "scale": {"domain": ["2.1", "3.0", "4.0"], "range": ["square", "circle", "M0,-1.3L0.78,0L0,1.3L-0.78,0Z"]}, "legend": {"title": null, "labelExpr": "'Ueff = ' + datum.label + ' eV'", "orient": "none", "legendX": 28, "legendY": 198, "symbolStrokeColor": "black", "symbolStrokeWidth": 0.8, "symbolOpacity": 1}}}},
 {"data": {"values": [{"label": "1H-CrSeI"}]}, "mark": {"type": "text", "font": "Liberation Serif", "fontSize": 25, "align": "center", "baseline": "middle"}, "encoding": {"x": {"datum": 253.3, "type": "quantitative"}, "y": {"datum": 0.903, "type": "quantitative"}, "text": {"field": "label"}}}
]}
],
"config": {
 "font": "DejaVu Serif",
 "view": {"stroke": "black", "strokeWidth": 1.3},
 "axis": {"grid": false, "domain": false, "labelFont": "DejaVu Serif", "labelFontSize": 21, "labelColor": "black", "titleFont": "DejaVu Serif", "titleFontSize": 18, "titleFontWeight": "normal", "titleColor": "black", "tickColor": "black", "tickSize": -4, "tickWidth": 1, "labelPadding": 10, "titlePadding": 4},
 "axisY": {"titlePadding": 9},
 "title": {"font": "DejaVu Serif", "fontSize": 26, "fontWeight": "normal", "anchor": "start", "frame": "bounds", "dx": -30, "offset": 6},
 "legend": {"labelFont": "DejaVu Serif", "labelFontSize": 14.5, "labelColor": "black", "fillColor": "white", "strokeColor": "#cccccc", "cornerRadius": 4, "padding": 6, "rowPadding": 7, "symbolSize": 60, "symbolOffset": 10, "labelOffset": 12}
}
}
